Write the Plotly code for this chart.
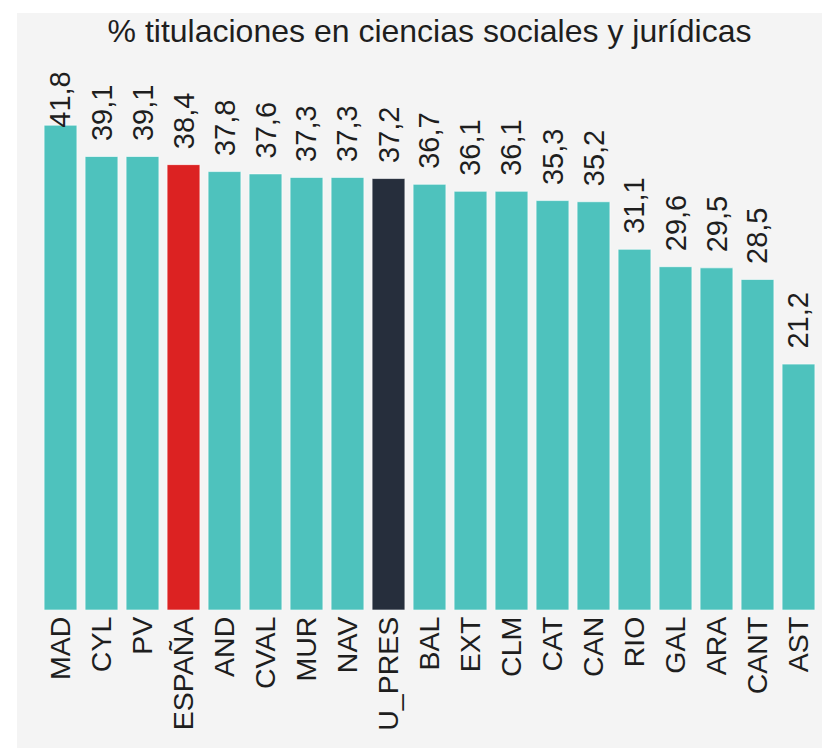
import plotly.graph_objects as go

# Data
regions = ["MAD", "CYL", "PV", "ESPAÑA", "AND", "CVAL", "MUR", "NAV", "U_PRES",
           "BAL", "EXT", "CLM", "CAT", "CAN", "RIO", "GAL", "ARA", "CANT", "AST"]
pct_sociales = [41.8, 39.1, 39.1, 38.4, 37.8, 37.6, 37.3, 37.3, 37.2,
                36.7, 36.1, 36.1, 35.3, 35.2, 31.1, 29.6, 29.5, 28.5, 21.2]

TEAL = "#4ec2bd"
HIGHLIGHT = {"ESPAÑA": "#dc2222", "U_PRES": "#262e3c"}
FONT = "Arial, 'Liberation Sans', sans-serif"
TEXT_COLOR = "#1e1e1e"
Y_MAX = 46.3
LABEL_ROOM = 5.9  # data units a padded label needs above its bar

bar_colors = [HIGHLIGHT.get(r, TEAL) for r in regions]

fig = go.Figure(
    go.Bar(
        x=regions,
        y=pct_sociales,
        marker=dict(color=bar_colors, line=dict(width=1, color="rgba(255,255,255,0.6)")),
        hoverinfo="x+y",
    )
)

# value labels: a bit above each bar, unless that would go past the top
for reg, v in zip(regions, pct_sociales):
    fig.add_annotation(
        x=reg,
        y=v,
        text=f"{v:.1f}".replace(".", ","),
        showarrow=False,
        textangle=-90,
        xanchor="center",
        yanchor="middle",
        yshift=43 if v + LABEL_ROOM <= Y_MAX else 25,
        font=dict(size=29, color=TEXT_COLOR, family=FONT),
    )

fig.update_layout(
    width=805,
    height=735,
    margin=dict(l=23, r=3, t=60, b=138),
    paper_bgcolor="#f4f4f4",
    plot_bgcolor="#f4f4f4",
    bargap=0.2,
    showlegend=False,
    font=dict(family=FONT, color=TEXT_COLOR),
    title=dict(
        text="% titulaciones en ciencias sociales y jurídicas",
        font=dict(size=32, color=TEXT_COLOR, family=FONT),
        x=0.5,
        xref="paper",
        xanchor="center",
        y=1 - 18 / 735,
        yanchor="middle",
    ),
)

fig.update_xaxes(
    tickangle=-90,
    tickfont=dict(size=28.5, color=TEXT_COLOR, family=FONT),
    showgrid=False,
    showline=False,
    ticks="",
)
fig.update_yaxes(
    range=[0, Y_MAX],
    showgrid=False,
    zeroline=False,
    showticklabels=False,
    ticks="",
)

# page offset of the grey panel in the reference
fig.write_html(
    "out.html",
    post_script="document.body.style.margin='13px 0 0 17px';"
    "document.body.style.overflow='hidden';",
)
